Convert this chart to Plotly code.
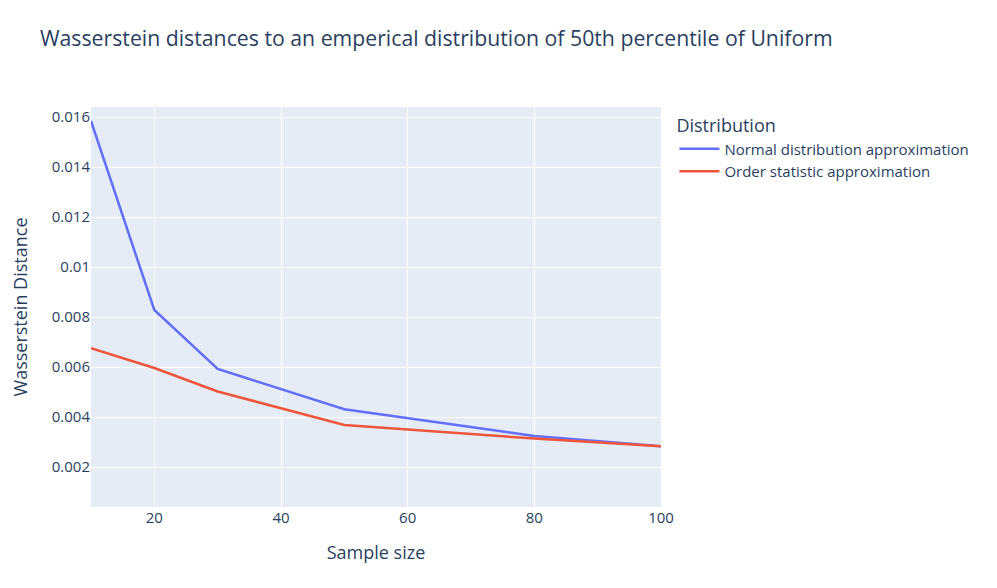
import plotly.graph_objects as go

sample_size = [10, 20, 30, 50, 80, 100]
normal_approx = [0.01584, 0.00828, 0.00592, 0.00431, 0.00324, 0.00283]
order_stat_approx = [0.00675, 0.00596, 0.00502, 0.00368, 0.00314, 0.00283]

fig = go.Figure()
fig.add_trace(go.Scatter(x=sample_size, y=normal_approx, mode="lines",
                         name="Normal distribution approximation",
                         line=dict(color="#636efa", width=2.5)))
fig.add_trace(go.Scatter(x=sample_size, y=order_stat_approx, mode="lines",
                         name="Order statistic approximation",
                         line=dict(color="#EF553B", width=2.5)))
fig.update_layout(
    template="plotly",
    width=997, height=588,
    font=dict(size=15),
    margin=dict(l=83, r=344, t=99, b=89),
    title=dict(text="Wasserstein distances to an emperical distribution of 50th percentile of Uniform",
               x=0.032, y=0.948, yanchor="middle", font=dict(size=21.25)),
    legend=dict(title=dict(text="Distribution"), itemwidth=40,
                x=1.0235, y=0.995),
    xaxis=dict(title=dict(text="Sample size", standoff=20), range=[10, 100], dtick=20,
               gridwidth=1.25, automargin=False),
    yaxis=dict(title=dict(text="Wasserstein Distance", standoff=34),
               range=[0.0004, 0.0164], gridwidth=1.25, automargin=False),
)
fig.write_html("out.html")
